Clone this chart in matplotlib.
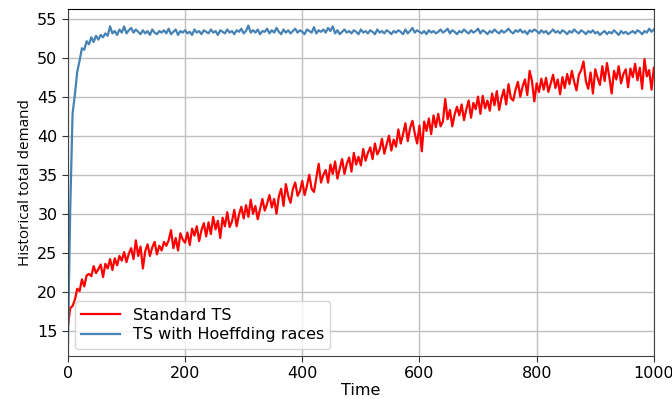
import numpy as np
import matplotlib
matplotlib.use("Agg")
import matplotlib.pyplot as plt

# Time axis: one sample every 4 steps
time = np.arange(0, 1001, 4)

standard_ts = [
    15.6, 17.9, 18.2, 19.0, 20.4, 20.1, 21.6, 20.7, 22.1, 22.3,
    22.0, 23.3, 22.4, 22.9, 23.5, 21.9, 23.6, 23.0, 24.2, 22.8,
    24.3, 23.4, 24.6, 24.0, 25.1, 23.8, 24.9, 25.6, 24.2, 26.6,
    24.6, 25.8, 23.0, 25.2, 26.1, 24.6, 25.7, 26.4, 24.8, 25.9,
    25.3, 26.4, 25.9, 26.6, 27.9, 25.6, 26.9, 25.3, 27.5, 26.7,
    26.3, 27.6, 26.0, 28.1, 27.2, 28.4, 26.5, 27.9, 28.8, 27.1,
    28.9, 27.4, 29.6, 28.0, 29.1, 26.9, 29.5, 28.4, 30.2, 28.3,
    29.0, 30.5, 28.4, 29.9, 30.9, 29.4, 31.1, 29.6, 31.8, 30.0,
    31.0, 29.3, 30.6, 31.9, 30.4, 31.3, 32.4, 30.8, 31.9, 30.0,
    32.2, 33.2, 31.0, 33.8, 32.3, 31.4, 33.2, 34.0, 32.3, 32.9,
    34.2, 32.4, 33.6, 35.0, 33.2, 32.8, 34.6, 36.4, 34.0, 35.0,
    35.6, 34.0, 36.3, 35.1, 36.7, 34.5, 35.8, 37.0, 35.1, 36.4,
    37.2, 35.4, 37.8, 36.3, 37.3, 36.2, 38.3, 36.8, 37.8, 38.5,
    37.0, 39.0, 37.6, 38.2, 39.6, 37.7, 38.9, 40.0, 38.1, 39.5,
    38.6, 40.8, 39.0, 40.2, 41.6, 39.3, 41.0, 41.9, 40.3, 39.0,
    41.3, 38.0, 41.8, 40.6, 42.2, 40.2, 42.6, 41.1, 42.8, 41.2,
    41.8, 44.7, 42.1, 43.3, 41.2, 42.7, 43.7, 42.6, 44.0, 42.0,
    43.4, 44.5, 42.3, 44.2, 43.4, 45.0, 42.8, 45.1, 43.5, 44.5,
    43.2, 45.4, 43.9, 45.7, 43.3, 44.8, 45.9, 44.0, 46.6, 44.8,
    44.5, 45.9, 46.9, 45.0, 46.3, 47.2, 45.2, 48.3, 47.0, 44.4,
    46.7, 45.6, 47.3, 45.9, 47.4, 45.6, 46.7, 47.8, 46.1, 47.2,
    45.3, 47.5, 46.1, 47.9, 46.6, 48.3, 46.9, 45.8, 47.8, 48.4,
    49.5, 47.0, 46.0, 48.1, 45.4, 48.5, 47.4, 46.5, 48.9, 47.0,
    49.3, 47.5, 45.4, 48.3, 47.2, 48.9, 46.7, 47.9, 48.5, 46.2,
    48.6, 47.5, 49.2, 47.1, 48.7, 46.0, 49.8, 47.6, 48.4, 45.9,
    48.7,
]

hoeffding_ts = [
    12.8, 30.5, 42.8, 45.3, 48.2, 49.6, 51.2, 51.0, 52.1, 51.7,
    52.6, 52.0, 52.8, 52.3, 52.9, 52.6, 53.1, 52.8, 54.0, 53.1,
    53.4, 52.9, 53.6, 53.2, 54.0, 53.1, 53.5, 53.8, 53.2, 53.6,
    53.3, 53.0, 53.5, 53.1, 53.4, 52.9, 53.6, 53.2, 53.0, 53.4,
    53.2, 53.5, 53.1, 53.7, 53.0, 53.3, 53.6, 52.9, 53.4, 53.2,
    53.5, 53.1, 53.3, 52.9, 53.6, 53.2, 53.4, 53.0, 53.5, 53.3,
    53.1, 53.6, 53.2, 53.4, 52.9, 53.5, 53.3, 53.1, 53.6, 53.2,
    53.4, 53.0, 53.5, 53.3, 53.7, 53.1, 53.4, 54.1, 53.2, 53.5,
    53.2, 53.6, 53.0, 53.4, 53.3, 53.7, 53.1, 53.5, 53.2, 53.8,
    53.3, 53.0, 53.6, 53.2, 53.5, 53.1, 53.4, 53.7, 53.2, 53.5,
    53.3, 53.0, 53.6, 53.4, 53.2, 53.9, 53.1, 53.5, 53.3, 53.6,
    53.2, 53.8, 53.4, 54.0, 53.1, 53.5, 53.0, 53.3, 53.6, 53.2,
    53.4, 53.1, 53.5, 53.3, 53.0, 53.6, 53.2, 53.4, 53.1, 53.5,
    53.3, 53.0, 53.6, 53.2, 53.4, 53.1, 53.5, 53.3, 53.0, 53.4,
    53.2, 53.5, 53.3, 53.0, 53.6, 53.1, 53.4, 53.8, 53.2, 53.5,
    53.3, 53.1, 53.4, 53.0, 53.5, 53.2, 53.4, 53.1, 53.3, 53.6,
    53.2, 53.4, 53.7, 53.1, 53.5, 53.3, 53.0, 53.4, 53.2, 53.6,
    53.3, 53.1, 53.5, 53.2, 53.4, 53.7, 53.1, 53.5, 53.3, 53.0,
    53.4, 53.2, 53.6, 53.3, 53.1, 53.5, 53.2, 53.4, 53.7, 53.3,
    53.1, 53.5, 53.3, 53.6, 53.2, 53.4, 53.0, 53.5, 53.3, 53.6,
    53.4, 53.1, 53.5, 53.2, 53.4, 53.0, 53.3, 53.6, 53.2, 53.4,
    53.1, 53.5, 53.3, 53.0, 53.4, 53.2, 53.6, 53.3, 53.1, 53.5,
    53.3, 53.0, 53.4, 53.2, 53.5, 53.1, 53.3, 52.9, 53.2, 53.4,
    53.0, 53.3, 53.1, 53.5, 53.2, 52.9, 53.4, 53.1, 53.3, 53.0,
    53.2, 53.4, 53.1, 53.5, 53.3, 53.0, 53.4, 53.2, 53.7, 53.3,
    53.6,
]

series_labels = ["Standard TS", "TS with Hoeffding races"]
series_colors = ["#ff0000", "#4682b4"]

fig = plt.figure(figsize=(6.72, 3.99), dpi=100)
ax = fig.add_axes([0.101, 0.108, 0.872, 0.869])

ax.plot(time, standard_ts, color=series_colors[0], lw=1.6, label=series_labels[0])
ax.plot(time, hoeffding_ts, color=series_colors[1], lw=1.6, label=series_labels[1])

ax.set_xlim(0, 1000)
ax.set_ylim(11.8, 56.2)
ax.set_xticks([0, 200, 400, 600, 800, 1000])
ax.set_yticks([15, 20, 25, 30, 35, 40, 45, 50, 55])
ax.grid(True, color="#c0c0c0", lw=1.0)
ax.set_axisbelow(True)
ax.tick_params(labelsize=11.5, length=4, color="#333333")
for side in ["left", "bottom", "right"]:
    ax.spines[side].set_color("#444444")

ax.set_xlabel("Time", fontsize=11.5, labelpad=1)
ax.set_ylabel("Historical total demand", fontsize=11, family="Open Sans", labelpad=3)

ax.legend(loc="lower left", fontsize=11.5, frameon=True, framealpha=0.8,
          edgecolor="#cccccc", borderaxespad=0.45, handlelength=2.4,
          labelspacing=0.3)

fig.savefig("out.png", dpi=100)
